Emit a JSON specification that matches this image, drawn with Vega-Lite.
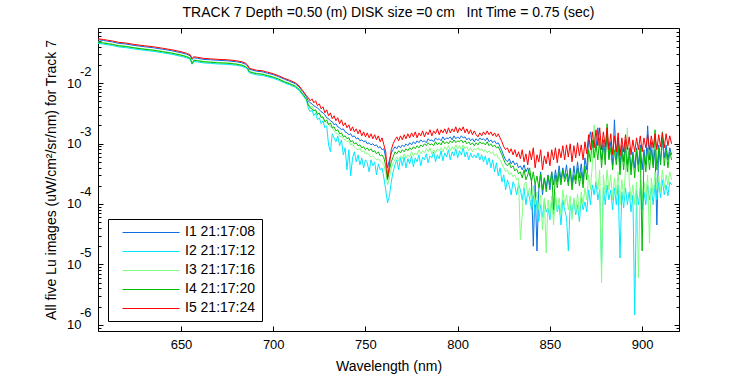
{
"$schema": "https://vega.github.io/schema/vega-lite/v6.json",
"width": 581, "height": 303,
"autosize": "none",
"padding": {"left": 98, "top": 28, "right": 71, "bottom": 44},
"background": "white",
"title": {"text": "TRACK 7 Depth =0.50 (m) DISK size =0 cm\u00a0\u00a0 Int Time = 0.75 (sec)", "fontSize": 14, "font": "Liberation Sans", "fontWeight": "normal", "anchor": "middle", "offset": 2, "color": "black"},
"config": {
  "view": {"stroke": "black", "strokeWidth": 1},
  "axis": {"domain": false, "grid": false, "labelFont": "Liberation Sans", "labelFontSize": 13, "labelColor": "black", "tickColor": "black", "tickWidth": 1, "titleFont": "Liberation Sans", "titleFontSize": 14, "titleFontWeight": "normal", "titleColor": "black", "labelOverlap": false, "labelBound": false, "labelFlush": false}
},
"data": {"values": [
{"w":605,"e":0.0541,"a":0.0521,"c":0.0481,"d":0.0473,"b":0.0454},
{"w":608,"e":0.0525,"a":0.0506,"c":0.0467,"d":0.0459,"b":0.0441},
{"w":610,"e":0.0513,"a":0.0494,"c":0.0457,"d":0.0449,"b":0.0431},
{"w":613,"e":0.0496,"a":0.0478,"c":0.0441,"d":0.0434,"b":0.0417},
{"w":616,"e":0.0473,"a":0.0455,"c":0.0421,"d":0.0414,"b":0.0397},
{"w":620,"e":0.0460,"a":0.0443,"c":0.0409,"d":0.0403,"b":0.0386},
{"w":625,"e":0.0434,"a":0.0418,"c":0.0386,"d":0.0380,"b":0.0365},
{"w":630,"e":0.0415,"a":0.0400,"c":0.0369,"d":0.0363,"b":0.0349},
{"w":635,"e":0.0399,"a":0.0384,"c":0.0355,"d":0.0349,"b":0.0335},
{"w":640,"e":0.0377,"a":0.0363,"c":0.0336,"d":0.0330,"b":0.0317},
{"w":645,"e":0.0356,"a":0.0343,"c":0.0317,"d":0.0312,"b":0.0299},
{"w":650,"e":0.0330,"a":0.0318,"c":0.0294,"d":0.0289,"b":0.0277},
{"w":653,"e":0.0312,"a":0.0300,"c":0.0278,"d":0.0273,"b":0.0262},
{"w":655,"e":0.0294,"a":0.0283,"c":0.0262,"d":0.0257,"b":0.0247},
{"w":656,"e":0.0257,"a":0.0245,"c":0.0215,"d":0.0209,"b":0.0205},
{"w":657,"e":0.0272,"a":0.0262,"c":0.0242,"d":0.0238,"b":0.0228},
{"w":659,"e":0.0267,"a":0.0257,"c":0.0238,"d":0.0234,"b":0.0224},
{"w":662,"e":0.0257,"a":0.0247,"c":0.0229,"d":0.0225,"b":0.0216},
{"w":666,"e":0.0252,"a":0.0243,"c":0.0224,"d":0.0221,"b":0.0212},
{"w":670,"e":0.0247,"a":0.0238,"c":0.0220,"d":0.0216,"b":0.0207},
{"w":675,"e":0.0243,"a":0.0234,"c":0.0216,"d":0.0213,"b":0.0204},
{"w":680,"e":0.0234,"a":0.0225,"c":0.0208,"d":0.0205,"b":0.0197},
{"w":683,"e":0.0225,"a":0.0217,"c":0.0200,"d":0.0197,"b":0.0189},
{"w":685,"e":0.0213,"a":0.0205,"c":0.0190,"d":0.0186,"b":0.0179},
{"w":686,"e":0.0201,"a":0.0194,"c":0.0179,"d":0.0176,"b":0.0169},
{"w":687,"e":0.0176,"a":0.0169,"c":0.0157,"d":0.0154,"b":0.0148},
{"w":689,"e":0.0169,"a":0.0163,"c":0.0150,"d":0.0148,"b":0.0142},
{"w":691,"e":0.0163,"a":0.0157,"c":0.0145,"d":0.0143,"b":0.0137},
{"w":694,"e":0.0160,"a":0.0154,"c":0.0142,"d":0.0140,"b":0.0134},
{"w":697,"e":0.0151,"a":0.0145,"c":0.0134,"d":0.0132,"b":0.0127},
{"w":700,"e":0.0143,"a":0.0138,"c":0.0127,"d":0.0125,"b":0.0120},
{"w":703,"e":0.0132,"a":0.0127,"c":0.0117,"d":0.0116,"b":0.0111},
{"w":706,"e":0.0120,"a":0.0116,"c":0.0107,"d":0.0105,"b":0.0101},
{"w":709,"e":0.0111,"a":0.0107,"c":0.00988,"d":0.00971,"b":0.00932},
{"w":712,"e":0.0101,"a":0.00973,"c":0.00899,"d":0.00884,"b":0.00848},
{"w":714,"e":0.0090,"a":0.00867,"c":0.00801,"d":0.00788,"b":0.00756},
{"w":716,"e":0.0075,"a":0.00722,"c":0.00668,"d":0.00656,"b":0.0063},
{"w":718,"e":0.0062,"a":0.00597,"c":0.00552,"d":0.00543,"b":0.00521},
{"w":719,"e":5.71e-3,"a":5.09e-3,"c":4.54e-3,"d":4.37e-3,"b":3.90e-3},
{"w":720,"e":5.09e-3,"a":4.72e-3,"c":4.05e-3,"d":3.90e-3,"b":3.35e-3},
{"w":721,"e":5.50e-3,"a":4.54e-3,"c":4.21e-3,"d":3.75e-3,"b":3.61e-3},
{"w":722,"e":4.72e-3,"a":4.21e-3,"c":3.61e-3,"d":3.48e-3,"b":2.88e-3},
{"w":723,"e":5.09e-3,"a":4.05e-3,"c":3.48e-3,"d":3.61e-3,"b":3.22e-3},
{"w":724,"e":4.21e-3,"a":3.90e-3,"c":3.22e-3,"d":2.99e-3,"b":2.47e-3},
{"w":725,"e":4.54e-3,"a":3.61e-3,"c":3.10e-3,"d":3.22e-3,"b":2.67e-3},
{"w":726,"e":3.75e-3,"a":3.35e-3,"c":2.77e-3,"d":2.67e-3,"b":2.12e-3},
{"w":727,"e":4.05e-3,"a":3.22e-3,"c":2.57e-3,"d":2.77e-3,"b":2.38e-3},
{"w":728,"e":3.22e-3,"a":2.99e-3,"c":2.38e-3,"d":2.29e-3,"b":1.82e-3},
{"w":729,"e":3.61e-3,"a":2.67e-3,"c":2.20e-3,"d":2.47e-3,"b":1.96e-3},
{"w":730,"e":2.88e-3,"a":2.57e-3,"c":2.12e-3,"d":2.04e-3,"b":9.5e-4},
{"w":731,"e":3.22e-3,"a":2.38e-3,"c":1.89e-3,"d":2.20e-3,"b":7.3e-4},
{"w":732,"e":2.57e-3,"a":2.29e-3,"c":1.82e-3,"d":1.82e-3,"b":1.45e-3},
{"w":733,"e":2.88e-3,"a":2.04e-3,"c":1.62e-3,"d":1.89e-3,"b":1.24e-3},
{"w":734,"e":2.38e-3,"a":2.12e-3,"c":1.50e-3,"d":1.62e-3,"b":1.07e-3},
{"w":735,"e":2.67e-3,"a":1.89e-3,"c":1.45e-3,"d":1.69e-3,"b":1.34e-3},
{"w":736,"e":2.12e-3,"a":1.82e-3,"c":1.34e-3,"d":1.45e-3,"b":9.2e-4},
{"w":737,"e":2.47e-3,"a":1.69e-3,"c":1.29e-3,"d":1.50e-3,"b":1.15e-3},
{"w":738,"e":1.96e-3,"a":1.75e-3,"c":1.20e-3,"d":1.29e-3,"b":6.5e-4},
{"w":739,"e":2.20e-3,"a":1.56e-3,"c":1.15e-3,"d":1.34e-3,"b":8.5e-4},
{"w":740,"e":1.82e-3,"a":1.50e-3,"c":1.07e-3,"d":1.20e-3,"b":3.67e-4},
{"w":741,"e":2.04e-3,"a":1.40e-3,"c":1.11e-3,"d":1.24e-3,"b":7.9e-4},
{"w":742,"e":1.62e-3,"a":1.45e-3,"c":9.5e-4,"d":1.07e-3,"b":2.92e-4},
{"w":743,"e":1.89e-3,"a":1.29e-3,"c":9.9e-4,"d":1.11e-3,"b":5.8e-4},
{"w":744,"e":1.56e-3,"a":1.34e-3,"c":8.85e-4,"d":9.9e-4,"b":7.3e-4},
{"w":745,"e":1.75e-3,"a":1.20e-3,"c":8.2e-4,"d":1.03e-3,"b":4.98e-4},
{"w":746,"e":1.45e-3,"a":1.24e-3,"c":7.9e-4,"d":9.2e-4,"b":6.5e-4},
{"w":747,"e":1.69e-3,"a":1.11e-3,"c":8.5e-4,"d":9.5e-4,"b":4.44e-4},
{"w":748,"e":1.34e-3,"a":1.15e-3,"c":7.3e-4,"d":8.5e-4,"b":5.8e-4},
{"w":749,"e":1.56e-3,"a":1.07e-3,"c":7.6e-4,"d":8.85e-4,"b":3.96e-4},
{"w":750,"e":1.29e-3,"a":1.11e-3,"c":6.75e-4,"d":7.9e-4,"b":5.37e-4},
{"w":751,"e":1.50e-3,"a":9.9e-4,"c":7.0e-4,"d":8.5e-4,"b":4.8e-4},
{"w":752,"e":1.24e-3,"a":1.03e-3,"c":6.5e-4,"d":7.6e-4,"b":3.40e-4},
{"w":753,"e":1.45e-3,"a":9.5e-4,"c":6.0e-4,"d":8.2e-4,"b":5.37e-4},
{"w":754,"e":1.20e-3,"a":9.9e-4,"c":6.25e-4,"d":7.3e-4,"b":4.28e-4},
{"w":755,"e":1.40e-3,"a":9.2e-4,"c":5.8e-4,"d":7.6e-4,"b":4.98e-4},
{"w":756,"e":1.15e-3,"a":9.5e-4,"c":5.37e-4,"d":6.75e-4,"b":3.03e-4},
{"w":757,"e":1.34e-3,"a":8.5e-4,"c":5.6e-4,"d":7.3e-4,"b":4.61e-4},
{"w":758,"e":1.07e-3,"a":8.85e-4,"c":5.17e-4,"d":6.25e-4,"b":3.67e-4},
{"w":759,"e":1.24e-3,"a":7.9e-4,"c":4.8e-4,"d":6.5e-4,"b":3.96e-4},
{"w":760,"e":9.5e-4,"a":8.2e-4,"c":4.44e-4,"d":5.8e-4,"b":2.70e-4},
{"w":761,"e":7.3e-4,"a":5.8e-4,"c":3.40e-4,"d":4.28e-4,"b":1.71e-4},
{"w":762,"e":2.70e-4,"a":3.96e-4,"c":2.07e-4,"d":2.51e-4,"b":1.04e-4},
{"w":763,"e":4.44e-4,"a":5.37e-4,"c":2.70e-4,"d":3.67e-4,"b":1.36e-4},
{"w":764,"e":7.9e-4,"a":7.0e-4,"c":3.96e-4,"d":4.98e-4,"b":2.32e-4},
{"w":765,"e":9.9e-4,"a":7.9e-4,"c":4.8e-4,"d":6.0e-4,"b":3.40e-4},
{"w":766,"e":1.15e-3,"a":8.85e-4,"c":5.37e-4,"d":7.3e-4,"b":4.44e-4},
{"w":767,"e":1.29e-3,"a":8.2e-4,"c":6.0e-4,"d":6.75e-4,"b":5.37e-4},
{"w":768,"e":1.11e-3,"a":9.2e-4,"c":5.17e-4,"d":7.6e-4,"b":3.67e-4},
{"w":769,"e":1.34e-3,"a":8.5e-4,"c":6.25e-4,"d":7.0e-4,"b":5.8e-4},
{"w":770,"e":1.15e-3,"a":9.5e-4,"c":5.6e-4,"d":7.9e-4,"b":4.28e-4},
{"w":771,"e":1.40e-3,"a":8.85e-4,"c":6.75e-4,"d":7.3e-4,"b":6.0e-4},
{"w":772,"e":1.20e-3,"a":9.9e-4,"c":5.8e-4,"d":8.2e-4,"b":3.96e-4},
{"w":773,"e":1.45e-3,"a":9.2e-4,"c":6.5e-4,"d":7.6e-4,"b":5.6e-4},
{"w":774,"e":1.24e-3,"a":1.03e-3,"c":6.0e-4,"d":8.5e-4,"b":4.61e-4},
{"w":775,"e":1.50e-3,"a":9.5e-4,"c":7.3e-4,"d":7.9e-4,"b":6.25e-4},
{"w":776,"e":1.29e-3,"a":1.07e-3,"c":6.25e-4,"d":8.85e-4,"b":4.12e-4},
{"w":777,"e":1.56e-3,"a":9.9e-4,"c":7.0e-4,"d":8.2e-4,"b":5.8e-4},
{"w":778,"e":1.24e-3,"a":1.11e-3,"c":6.5e-4,"d":9.2e-4,"b":4.98e-4},
{"w":779,"e":1.50e-3,"a":1.03e-3,"c":7.9e-4,"d":8.5e-4,"b":6.5e-4},
{"w":780,"e":1.34e-3,"a":1.15e-3,"c":6.75e-4,"d":9.5e-4,"b":4.28e-4},
{"w":781,"e":1.62e-3,"a":1.07e-3,"c":7.6e-4,"d":8.85e-4,"b":6.0e-4},
{"w":782,"e":1.29e-3,"a":1.11e-3,"c":7.0e-4,"d":9.9e-4,"b":5.37e-4},
{"w":783,"e":1.56e-3,"a":1.03e-3,"c":8.2e-4,"d":9.2e-4,"b":6.75e-4},
{"w":784,"e":1.40e-3,"a":1.20e-3,"c":7.3e-4,"d":1.03e-3,"b":4.8e-4},
{"w":785,"e":1.69e-3,"a":1.11e-3,"c":8.5e-4,"d":9.5e-4,"b":6.25e-4},
{"w":786,"e":1.34e-3,"a":1.15e-3,"c":6.75e-4,"d":9.9e-4,"b":5.8e-4},
{"w":787,"e":1.62e-3,"a":1.07e-3,"c":7.9e-4,"d":9.2e-4,"b":7.3e-4},
{"w":788,"e":1.45e-3,"a":1.24e-3,"c":7.0e-4,"d":1.07e-3,"b":4.98e-4},
{"w":789,"e":1.75e-3,"a":1.15e-3,"c":8.2e-4,"d":9.5e-4,"b":6.5e-4},
{"w":790,"e":1.40e-3,"a":1.20e-3,"c":7.6e-4,"d":1.03e-3,"b":5.6e-4},
{"w":791,"e":1.69e-3,"a":1.11e-3,"c":8.5e-4,"d":9.5e-4,"b":7.6e-4},
{"w":792,"e":1.50e-3,"a":1.29e-3,"c":7.3e-4,"d":1.11e-3,"b":5.17e-4},
{"w":793,"e":1.75e-3,"a":1.15e-3,"c":8.85e-4,"d":9.9e-4,"b":7.0e-4},
{"w":794,"e":1.45e-3,"a":1.24e-3,"c":7.9e-4,"d":1.07e-3,"b":6.0e-4},
{"w":795,"e":1.82e-3,"a":1.20e-3,"c":9.2e-4,"d":9.9e-4,"b":7.9e-4},
{"w":796,"e":1.50e-3,"a":1.29e-3,"c":7.6e-4,"d":1.11e-3,"b":5.37e-4},
{"w":797,"e":1.75e-3,"a":1.15e-3,"c":8.85e-4,"d":1.03e-3,"b":7.3e-4},
{"w":798,"e":1.56e-3,"a":1.34e-3,"c":7.9e-4,"d":1.15e-3,"b":6.25e-4},
{"w":799,"e":1.89e-3,"a":1.20e-3,"c":9.5e-4,"d":1.03e-3,"b":8.2e-4},
{"w":800,"e":1.50e-3,"a":1.29e-3,"c":8.2e-4,"d":1.11e-3,"b":5.8e-4},
{"w":801,"e":1.82e-3,"a":1.20e-3,"c":9.2e-4,"d":1.07e-3,"b":7.6e-4},
{"w":802,"e":1.62e-3,"a":1.34e-3,"c":7.9e-4,"d":1.15e-3,"b":6.5e-4},
{"w":803,"e":1.89e-3,"a":1.24e-3,"c":9.5e-4,"d":1.03e-3,"b":8.5e-4},
{"w":804,"e":1.50e-3,"a":1.29e-3,"c":8.2e-4,"d":1.11e-3,"b":6.0e-4},
{"w":805,"e":1.75e-3,"a":1.15e-3,"c":8.85e-4,"d":9.9e-4,"b":7.3e-4},
{"w":806,"e":1.45e-3,"a":1.24e-3,"c":7.6e-4,"d":1.07e-3,"b":5.37e-4},
{"w":807,"e":1.69e-3,"a":1.11e-3,"c":8.5e-4,"d":9.5e-4,"b":7.0e-4},
{"w":808,"e":1.40e-3,"a":1.20e-3,"c":7.3e-4,"d":1.03e-3,"b":5.8e-4},
{"w":809,"e":1.62e-3,"a":1.07e-3,"c":8.2e-4,"d":9.2e-4,"b":6.5e-4},
{"w":810,"e":1.40e-3,"a":1.20e-3,"c":7.9e-4,"d":1.03e-3,"b":5.8e-4},
{"w":811,"e":1.29e-3,"a":1.11e-3,"c":8.5e-4,"d":9.5e-4,"b":7.0e-4},
{"w":812,"e":1.50e-3,"a":1.24e-3,"c":7.6e-4,"d":1.07e-3,"b":5.37e-4},
{"w":813,"e":1.34e-3,"a":1.15e-3,"c":8.2e-4,"d":9.9e-4,"b":6.5e-4},
{"w":814,"e":1.56e-3,"a":1.20e-3,"c":7.3e-4,"d":1.03e-3,"b":4.98e-4},
{"w":815,"e":1.40e-3,"a":1.11e-3,"c":7.9e-4,"d":9.5e-4,"b":6.25e-4},
{"w":816,"e":1.62e-3,"a":1.24e-3,"c":7.0e-4,"d":1.07e-3,"b":4.44e-4},
{"w":817,"e":1.40e-3,"a":1.07e-3,"c":7.6e-4,"d":9.2e-4,"b":5.8e-4},
{"w":818,"e":1.56e-3,"a":1.15e-3,"c":6.75e-4,"d":9.9e-4,"b":3.96e-4},
{"w":819,"e":1.34e-3,"a":1.03e-3,"c":7.3e-4,"d":8.85e-4,"b":5.37e-4},
{"w":820,"e":1.50e-3,"a":1.11e-3,"c":6.25e-4,"d":9.5e-4,"b":3.40e-4},
{"w":821,"e":1.29e-3,"a":9.9e-4,"c":6.75e-4,"d":8.5e-4,"b":4.8e-4},
{"w":822,"e":1.45e-3,"a":1.03e-3,"c":5.8e-4,"d":8.85e-4,"b":2.92e-4},
{"w":823,"e":1.24e-3,"a":8.85e-4,"c":5.37e-4,"d":7.6e-4,"b":3.96e-4},
{"w":824,"e":1.07e-3,"a":7.6e-4,"c":4.61e-4,"d":6.5e-4,"b":2.32e-4},
{"w":825,"e":8.85e-4,"a":6.25e-4,"c":3.96e-4,"d":5.37e-4,"b":3.03e-4},
{"w":826,"e":7.9e-4,"a":5.37e-4,"c":3.40e-4,"d":4.61e-4,"b":1.71e-4},
{"w":827,"e":8.5e-4,"a":4.98e-4,"c":3.67e-4,"d":4.28e-4,"b":2.51e-4},
{"w":828,"e":7.0e-4,"a":5.6e-4,"c":3.03e-4,"d":4.8e-4,"b":2.0e-4},
{"w":829,"e":8.2e-4,"a":4.61e-4,"c":3.27e-4,"d":3.96e-4,"b":1.41e-4},
{"w":830,"e":6.5e-4,"a":5.17e-4,"c":2.81e-4,"d":4.28e-4,"b":2.32e-4},
{"w":831,"e":7.9e-4,"a":4.44e-4,"c":3.03e-4,"d":3.53e-4,"b":2.0e-4},
{"w":832,"e":6.0e-4,"a":4.8e-4,"c":2.51e-4,"d":3.81e-4,"b":1.41e-4},
{"w":833,"e":7.3e-4,"a":3.96e-4,"c":2.70e-4,"d":3.15e-4,"b":2.15e-4},
{"w":834,"e":5.6e-4,"a":4.28e-4,"c":2.55e-5,"d":3.40e-4,"b":1.71e-4},
{"w":835,"e":7.9e-4,"a":3.67e-4,"c":6.6e-5,"d":2.70e-4,"b":1.17e-4},
{"w":836,"e":4.98e-4,"a":4.44e-4,"c":2.07e-4,"d":3.67e-4,"b":1.85e-4},
{"w":837,"e":6.75e-4,"a":3.40e-4,"c":2.32e-4,"d":2.51e-4,"b":9.7e-5},
{"w":838,"e":4.44e-4,"a":3.96e-4,"c":1.41e-4,"d":3.03e-4,"b":1.59e-4},
{"w":839,"e":7.6e-4,"a":3.03e-4,"c":1.85e-4,"d":3.96e-4,"b":1.26e-4},
{"w":840,"e":5.37e-4,"a":2.51e-4,"c":1.17e-4,"d":2.32e-4,"b":8.0e-5},
{"w":841,"e":8.5e-4,"a":2.0e-5,"c":2.0e-4,"d":3.40e-4,"b":1.41e-4},
{"w":842,"e":3.96e-4,"a":2.07e-4,"c":9.7e-5,"d":2.07e-4,"b":6.6e-5},
{"w":843,"e":6.5e-4,"a":1.67e-5,"c":1.59e-4,"d":2.92e-4,"b":1.17e-4},
{"w":844,"e":4.98e-4,"a":1.71e-4,"c":8.0e-5,"d":1.85e-4,"b":5.1e-5},
{"w":845,"e":7.9e-4,"a":3.40e-4,"c":1.41e-4,"d":3.15e-4,"b":9.7e-5},
{"w":846,"e":3.67e-4,"a":1.41e-4,"c":3.7e-5,"d":1.71e-4,"b":6.0e-5},
{"w":847,"e":6.25e-4,"a":2.70e-4,"c":1.26e-4,"d":2.70e-4,"b":1.17e-4},
{"w":848,"e":4.61e-4,"a":1.85e-4,"c":1.55e-5,"d":1.59e-4,"b":7.4e-5},
{"w":849,"e":7.3e-4,"a":3.03e-4,"c":1.17e-4,"d":2.92e-4,"b":8.6e-5},
{"w":850,"e":4.28e-4,"a":1.71e-4,"c":6.6e-5,"d":2.07e-4,"b":5.5e-5},
{"w":851,"e":7.9e-4,"a":3.40e-4,"c":1.36e-4,"d":3.40e-4,"b":1.08e-4},
{"w":852,"e":5.37e-4,"a":2.07e-4,"c":4.5e-5,"d":8.0e-5,"b":6.6e-5},
{"w":853,"e":8.5e-4,"a":3.67e-4,"c":1.59e-4,"d":3.03e-4,"b":1.26e-4},
{"w":854,"e":4.8e-4,"a":2.32e-4,"c":8.0e-5,"d":1.85e-4,"b":7.4e-5},
{"w":855,"e":8.2e-4,"a":4.28e-4,"c":1.26e-4,"d":3.40e-4,"b":9.7e-5},
{"w":856,"e":5.8e-4,"a":2.51e-4,"c":6.6e-5,"d":2.07e-4,"b":4.5e-5},
{"w":857,"e":9.2e-4,"a":3.96e-4,"c":1.71e-4,"d":3.67e-4,"b":1.17e-4},
{"w":858,"e":5.37e-4,"a":2.70e-4,"c":9.7e-5,"d":2.32e-4,"b":8.0e-5},
{"w":859,"e":9.5e-4,"a":4.44e-4,"c":1.41e-4,"d":3.15e-4,"b":6.0e-5},
{"w":860,"e":6.0e-4,"a":2.32e-4,"c":8.0e-5,"d":2.0e-4,"b":1.67e-5},
{"w":861,"e":9.9e-4,"a":3.96e-4,"c":1.36e-4,"d":3.67e-4,"b":9.7e-5},
{"w":862,"e":4.98e-4,"a":2.07e-4,"c":5.5e-5,"d":1.71e-4,"b":7.4e-5},
{"w":863,"e":9.2e-4,"a":4.28e-4,"c":1.26e-4,"d":3.03e-4,"b":1.17e-4},
{"w":864,"e":5.8e-4,"a":2.51e-4,"c":7.4e-5,"d":2.15e-4,"b":6.6e-5},
{"w":865,"e":1.03e-3,"a":4.98e-4,"c":1.47e-4,"d":3.96e-4,"b":9.7e-5},
{"w":866,"e":6.25e-4,"a":2.70e-4,"c":6.6e-5,"d":2.0e-4,"b":5.1e-5},
{"w":867,"e":9.5e-4,"a":4.61e-4,"c":1.59e-4,"d":3.40e-4,"b":1.26e-4},
{"w":868,"e":5.37e-4,"a":2.32e-4,"c":9.7e-5,"d":1.85e-4,"b":8.0e-5},
{"w":869,"e":1.07e-3,"a":5.8e-4,"c":1.85e-4,"d":4.28e-4,"b":1.08e-4},
{"w":870,"e":6.75e-4,"a":3.67e-4,"c":1.17e-4,"d":2.51e-4,"b":7.4e-5},
{"w":871,"e":1.40e-3,"a":1.15e-3,"c":3.03e-4,"d":7.9e-4,"b":1.71e-4},
{"w":872,"e":7.9e-4,"a":1.56e-3,"c":1.71e-4,"d":4.98e-4,"b":9.7e-5},
{"w":873,"e":1.56e-3,"a":8.5e-4,"c":4.44e-4,"d":1.15e-3,"b":2.07e-4},
{"w":874,"e":8.5e-4,"a":1.40e-3,"c":2.04e-3,"d":5.8e-4,"b":1.41e-4},
{"w":875,"e":1.69e-3,"a":7.9e-4,"c":2.51e-4,"d":9.5e-4,"b":2.32e-4},
{"w":876,"e":9.2e-4,"a":1.82e-3,"c":1.71e-4,"d":5.37e-4,"b":1.17e-4},
{"w":877,"e":1.82e-3,"a":9.5e-4,"c":3.67e-4,"d":1.24e-3,"b":1.71e-4},
{"w":878,"e":7.9e-4,"a":5.37e-4,"c":5.0e-6,"d":3.96e-4,"b":9.8e-6},
{"w":879,"e":1.56e-3,"a":1.15e-3,"c":3.03e-4,"d":9.5e-4,"b":1.85e-4},
{"w":880,"e":8.85e-4,"a":6.5e-4,"c":1.41e-4,"d":4.44e-4,"b":9.7e-5},
{"w":881,"e":1.82e-3,"a":1.34e-3,"c":3.67e-4,"d":2.12e-3,"b":2.07e-4},
{"w":882,"e":7.9e-4,"a":5.8e-4,"c":1.71e-4,"d":5.37e-4,"b":1.17e-4},
{"w":883,"e":1.45e-3,"a":1.07e-3,"c":3.03e-4,"d":8.5e-4,"b":1.71e-4},
{"w":884,"e":6.5e-4,"a":4.44e-4,"c":1.17e-4,"d":3.67e-4,"b":8.0e-5},
{"w":885,"e":1.34e-3,"a":2.47e-3,"c":2.70e-4,"d":7.9e-4,"b":1.85e-4},
{"w":886,"e":7.3e-4,"a":5.37e-4,"c":1.41e-4,"d":4.44e-4,"b":9.7e-5},
{"w":887,"e":1.50e-3,"a":1.24e-3,"c":3.40e-4,"d":9.5e-4,"b":2.07e-4},
{"w":888,"e":6.25e-4,"a":3.96e-4,"c":9.7e-5,"d":3.03e-4,"b":1.28e-5},
{"w":889,"e":1.24e-3,"a":9.5e-4,"c":2.51e-4,"d":7.9e-4,"b":1.59e-4},
{"w":890,"e":7.3e-4,"a":4.98e-4,"c":1.26e-4,"d":3.67e-4,"b":8.6e-5},
{"w":891,"e":1.40e-3,"a":1.15e-3,"c":3.67e-4,"d":9.2e-4,"b":1.85e-4},
{"w":892,"e":7.9e-4,"a":4.44e-4,"c":1.82e-3,"d":3.40e-4,"b":9.7e-5},
{"w":893,"e":1.29e-3,"a":8.5e-4,"c":2.32e-4,"d":7.3e-4,"b":1.59e-4},
{"w":894,"e":6.5e-4,"a":3.67e-4,"c":1.17e-4,"d":3.03e-4,"b":7.4e-5},
{"w":895,"e":1.15e-3,"a":7.3e-4,"c":2.07e-4,"d":6.5e-4,"b":1.41e-4},
{"w":896,"e":7.3e-4,"a":3.96e-4,"c":9.7e-5,"d":2.70e-4,"b":1.46e-6},
{"w":897,"e":1.24e-3,"a":8.5e-4,"c":2.32e-4,"d":7.9e-4,"b":1.71e-4},
{"w":898,"e":7.9e-4,"a":4.44e-4,"c":6.0e-6,"d":3.40e-4,"b":9.7e-5},
{"w":899,"e":1.34e-3,"a":9.5e-4,"c":2.51e-4,"d":8.5e-4,"b":1.85e-4},
{"w":900,"e":7.3e-4,"a":3.67e-4,"c":1.17e-4,"d":1.67e-5,"b":8.0e-5},
{"w":901,"e":1.24e-3,"a":7.9e-4,"c":2.32e-4,"d":6.5e-4,"b":1.59e-4},
{"w":902,"e":8.5e-4,"a":4.44e-4,"c":1.26e-4,"d":3.40e-4,"b":9.7e-5},
{"w":903,"e":1.40e-3,"a":1.96e-3,"c":3.03e-4,"d":8.5e-4,"b":2.07e-4},
{"w":904,"e":7.9e-4,"a":5.37e-4,"c":2.25e-5,"d":3.67e-4,"b":1.17e-4},
{"w":905,"e":1.34e-3,"a":1.07e-3,"c":2.70e-4,"d":7.9e-4,"b":1.85e-4},
{"w":906,"e":8.5e-4,"a":4.44e-4,"c":1.41e-4,"d":3.96e-4,"b":9.7e-5},
{"w":907,"e":1.45e-3,"a":7.9e-4,"c":3.40e-4,"d":1.69e-3,"b":2.07e-4},
{"w":908,"e":7.9e-4,"a":4.5e-5,"c":1.71e-4,"d":3.67e-4,"b":1.17e-4},
{"w":909,"e":1.40e-3,"a":9.5e-4,"c":2.92e-4,"d":8.5e-4,"b":2.32e-4},
{"w":910,"e":8.85e-4,"a":4.98e-4,"c":1.59e-4,"d":4.44e-4,"b":1.26e-4},
{"w":911,"e":1.50e-3,"a":1.15e-3,"c":3.67e-4,"d":1.56e-3,"b":2.51e-4},
{"w":912,"e":8.5e-4,"a":5.8e-4,"c":1.85e-4,"d":4.28e-4,"b":1.41e-4},
{"w":913,"e":1.45e-3,"a":9.5e-4,"c":3.03e-4,"d":7.9e-4,"b":2.07e-4},
{"w":914,"e":9.2e-4,"a":5.37e-4,"c":2.07e-4,"d":3.96e-4,"b":1.36e-4},
{"w":915,"e":1.34e-3,"a":8.5e-4,"c":3.40e-4,"d":7.3e-4,"b":2.32e-4},
{"w":916,"e":9.9e-4,"a":6.5e-4,"c":2.51e-4,"d":5.37e-4,"b":2.07e-4}
]},
"transform": [{"fold": ["a", "b", "c", "d", "e"], "as": ["s", "v"]}],
"layer": [
  {
    "mark": {"type": "line", "strokeWidth": 1},
    "encoding": {
      "x": {"field": "w", "type": "quantitative", "scale": {"domain": [605, 920], "nice": false, "zero": false},
        "axis": {"orient": "bottom", "values": [650, 700, 750, 800, 850, 900], "tickSize": -5, "labelPadding": 12, "title": "Wavelength (nm)", "titleY": 35, "titleBaseline": "middle"}},
      "y": {"field": "v", "type": "quantitative", "scale": {"type": "log", "domain": [7.92e-7, 0.0815], "nice": false},
        "axis": {"orient": "left",
          "values": [8e-7,9e-7,1e-6,2e-6,3e-6,4e-6,5e-6,6e-6,7e-6,8e-6,9e-6,1e-5,2e-5,3e-5,4e-5,5e-5,6e-5,7e-5,8e-5,9e-5,1e-4,2e-4,3e-4,4e-4,5e-4,6e-4,7e-4,8e-4,9e-4,0.001,0.002,0.003,0.004,0.005,0.006,0.007,0.008,0.009,0.01,0.02,0.03,0.04,0.05,0.06,0.07,0.08],
          "tickSize": {"condition": {"test": "abs(log(datum.value)/LN10 - round(log(datum.value)/LN10)) < 0.001", "value": -5}, "value": -3},
          "labelExpr": "abs(log(datum.value)/LN10 - round(log(datum.value)/LN10)) < 0.001 ? '10' : ''",
          "labelPadding": 22,
          "title": "All five Lu images (uW/cm²/sr/nm) for Track 7", "titleX": -47, "titleBaseline": "middle"}},
      "color": {"field": "s", "type": "nominal",
        "scale": {"domain": ["a", "b", "c", "d", "e"], "range": ["#0a6ee0", "#00e8ff", "#80ff80", "#00bb00", "#ff0000"]},
        "legend": {"orient": "bottom-left", "offset": 10, "title": null,
          "labelExpr": "datum.value == 'a' ? 'I1 21:17:08' : datum.value == 'b' ? 'I2 21:17:12' : datum.value == 'c' ? 'I3 21:17:16' : datum.value == 'd' ? 'I4 21:17:20' : 'I5 21:17:24'",
          "symbolType": "M-1,0.143H15.3", "symbolSize": 49, "symbolStrokeWidth": 1, "symbolOffset": 5, "labelOffset": 52, "rowPadding": 5, "padding": 6,
          "strokeColor": "black", "fillColor": "white", "labelFontSize": 14, "labelFont": "Liberation Sans", "labelColor": "black",
          "encode": {"symbols": {"update": {"stroke": {"scale": "color", "field": "value"}, "strokeWidth": {"value": 1}, "fill": {"value": "transparent"}}}}}}
    }
  },
  {
    "mark": {"type": "point", "opacity": 0},
    "encoding": {
      "x": {"field": "w", "type": "quantitative", "scale": {"domain": [605, 920], "nice": false, "zero": false},
        "axis": {"orient": "top", "values": [650, 700, 750, 800, 850, 900], "tickSize": -5, "labels": false, "title": null}},
      "y": {"field": "v", "type": "quantitative", "scale": {"type": "log", "domain": [7.92e-7, 0.0815], "nice": false},
        "axis": {"orient": "left", "values": [1e-6, 1e-5, 1e-4, 0.001, 0.01], "ticks": false, "tickSize": 0,
          "labelExpr": "'' + round(log(datum.value)/LN10)", "labelPadding": 7, "labelOffset": -12, "title": null}}
    }
  },
  {
    "mark": {"type": "point", "opacity": 0},
    "encoding": {
      "x": {"field": "w", "type": "quantitative", "scale": {"domain": [605, 920], "nice": false, "zero": false}, "axis": null},
      "y": {"field": "v", "type": "quantitative", "scale": {"type": "log", "domain": [7.92e-7, 0.0815], "nice": false},
        "axis": {"orient": "right",
          "values": [8e-7,9e-7,1e-6,2e-6,3e-6,4e-6,5e-6,6e-6,7e-6,8e-6,9e-6,1e-5,2e-5,3e-5,4e-5,5e-5,6e-5,7e-5,8e-5,9e-5,1e-4,2e-4,3e-4,4e-4,5e-4,6e-4,7e-4,8e-4,9e-4,0.001,0.002,0.003,0.004,0.005,0.006,0.007,0.008,0.009,0.01,0.02,0.03,0.04,0.05,0.06,0.07,0.08],
          "tickSize": {"condition": {"test": "abs(log(datum.value)/LN10 - round(log(datum.value)/LN10)) < 0.001", "value": -5}, "value": -3},
          "labels": false, "title": null}}
    }
  }
],
"resolve": {"axis": {"x": "independent", "y": "independent"}}
}
